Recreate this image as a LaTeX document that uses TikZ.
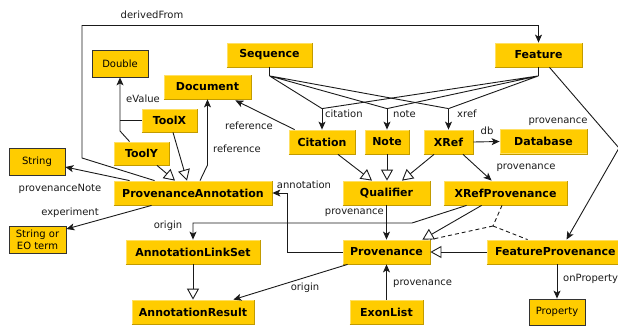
\documentclass[tikz,border=0pt]{standalone}
\usepackage{fontspec}
\setmainfont{DejaVu Sans}
\usetikzlibrary{arrows.meta,calc}
\definecolor{gold}{HTML}{FFCC00}
\definecolor{goldlight}{HTML}{FFE064}
\definecolor{golddark}{HTML}{C29B00}
\definecolor{ink}{HTML}{1A1A1A}

\begin{document}
\begin{tikzpicture}[x=1pt,y=-1pt,
  cls/.style={fill=gold, draw=goldlight, line width=0.8pt, inner sep=0pt,
    minimum height=24pt, font=\fontsize{11}{13}\selectfont\bfseries},
  shade edge/.style={draw=golddark, line width=0.8pt},
  prim/.style={fill=gold, draw=black!80, line width=0.8pt, inner sep=0pt,
    minimum height=27pt, minimum width=56pt, align=center,
    font=\fontsize{10}{12}\selectfont},
  lbl/.style={font=\fontsize{10}{12}\selectfont, text=ink, inner sep=0pt},
  link/.style={draw=ink, line width=0.9pt},
  assoc/.style={link, -{Stealth[length=8pt,width=7pt,inset=2pt]}},
  isa/.style={link, -{Triangle[open,length=11pt,width=12pt]}},
  dep/.style={link, dash pattern=on 4pt off 3pt}
]
\useasboundingbox (0,0) rectangle (618,326);

% classes
\node[prim] (Dbl) at (120,63.5) {Double};
\node[cls, minimum width=85pt] (Seq) at (269.5,55) {Sequence};
\node[cls, minimum width=87pt] (Feat) at (538.5,55) {Feature};
\node[cls, minimum width=87pt] (Doc) at (207.5,87) {Document};
\node[cls, minimum width=55pt, minimum height=23pt] (ToolX) at (169.5,120.5) {ToolX};
\node[cls, minimum width=55pt, minimum height=23pt] (ToolY) at (141.5,153.5) {ToolY};
\node[prim] (Str) at (37,161.5) {String};
\node[cls, minimum width=158pt] (PA) at (193,193) {ProvenanceAnnotation};
\node[prim, minimum width=57pt] (SEO) at (37.5,239.5) {String or\\EO term};
\node[cls, minimum width=66pt] (Cit) at (322,142) {Citation};
\node[cls, minimum width=44pt] (Note) at (387,142) {Note};
\node[cls, minimum width=49pt] (XRef) at (448.5,142) {XRef};
\node[cls, minimum width=87pt] (DB) at (543.5,141.5) {Database};
\node[cls, minimum width=87pt] (Qual) at (386.5,193) {Qualifier};
\node[cls, minimum width=123pt] (XRP) at (505.5,193) {XRefProvenance};
\node[cls, minimum width=134pt] (ALS) at (193,252) {AnnotationLinkSet};
\node[cls, minimum width=122pt] (AR) at (193,312) {AnnotationResult};
\node[cls, minimum width=87pt] (Prov) at (386.5,252) {Provenance};
\node[cls, minimum width=137pt, text width=121pt, align=left] (FP) at (555.5,252) {FeatureProvenance};
\node[cls, minimum width=73pt] (Exon) at (386.5,312) {ExonList};
\node[prim, minimum height=26pt] (Prop) at (557,312) {Property};

% darker lower and right edges of the class boxes
\foreach \n in {Seq,Feat,Doc,ToolX,ToolY,PA,Cit,Note,XRef,DB,Qual,XRP,ALS,AR,Prov,FP,Exon}
  \draw[shade edge] (\n.south west) -- (\n.south east) -- (\n.north east);

% derivedFrom
\draw[assoc] ($(PA.north west)+(41,0)$) -- (82,158) -- (82,25.5) -| (Feat.north);
\node[lbl] at (152,15) {derivedFrom};

% notes and experiment
\draw[assoc] ($(PA.north west)+(16,0)$) -- ($(Str.east)+(0,5.5)$);
\node[lbl] at (60,189) {provenanceNote};
\draw[assoc] ($(PA.south west)+(38,0)$) -- ($(SEO.east)+(0,-10.5)$);
\node[lbl] at (70,213) {experiment};

% tools
\draw[assoc] ($(ToolY.north west)+(16,0)$) -- (120,131) -- (Dbl.south);
\draw[link] (ToolX.west) -- (120,120.5);
\node[lbl] at (143,99) {eValue};
\draw[isa] ($(ToolX.south)+(3.5,0)$) -- ($(PA.north)+(-6,0)$);
\draw[isa] ($(ToolY.south)+(15.5,0)$) -- ($(PA.north)+(-18,0)$);

% references to Document
\draw[assoc] ($(PA.north)+(7,0)$) -- (207.5,165) -- (Doc.south);
\node[lbl] at (237,149) {reference};
\draw[assoc] ($(Cit.north west)+(6,0)$) -- ($(Doc.south east)+(-16,1)$);
\node[lbl] at (249,126) {reference};

% citation / note / xref fan
\coordinate (fc) at ($(Cit.north)+(0,-21)$);
\coordinate (fn) at ($(Note.north)+(0,-21)$);
\coordinate (fx) at ($(XRef.north)+(0,-21)$);
\draw[link] (Seq.south) -- ++(0,8.5) coordinate (sk);
\draw[link] (Feat.south) -- ++(0,8.5) coordinate (fk);
\draw[link] (sk) -- (fc) (sk) -- (fn) (sk) -- (fx);
\draw[link] (fk) -- (fc) (fk) -- (fn) (fk) -- (fx);
\draw[assoc] (fc) -- (Cit.north);
\draw[assoc] (fn) -- (Note.north);
\draw[assoc] (fx) -- (XRef.north);
\node[lbl, anchor=west] at (325,114) {citation};
\node[lbl, anchor=west] at (393,114) {note};
\node[lbl, anchor=west] at (457,114) {xref};

% XRef
\draw[assoc] (XRef.east) -- (DB.west);
\node[lbl] at (487,131) {db};
\draw[assoc] ($(XRef.south)+(14.5,0)$) -- ($(XRP.north west)+(48,0)$);
\node[lbl] at (526,168) {provenance};

% Qualifier hierarchy
\draw[isa] ($(Cit.south)+(16,0)$) -- ($(Qual.north)+(-14.5,0)$);
\draw[isa] (Note.south) -- (Note.south |- Qual.north);
\draw[isa] ($(XRef.south)+(-14.5,0)$) -- ($(Qual.north)+(15.5,0)$);
\draw[assoc] (Qual.south) -- (Prov.north);
\node[lbl, anchor=east] at (384,213) {provenance};

% Provenance links
\draw[assoc] (Prov.west) -| ($(PA.east)+(15,0)$) -- (PA.east);
\node[lbl] at (304,185) {annotation};
\draw[assoc] ($(XRP.south west)+(23,0)$) -- (412,223) -| (ALS.north);
\node[lbl] at (168,225.5) {origin};
\draw[isa] ($(XRP.south west)+(38,0)$) -- ($(Prov.north east)+(-8,0)$);
\coordinate (dk) at (493,226);
\draw[dep] ($(XRP.south)+(-3.5,0)$) -- (dk);
\draw[dep] (dk) -- (Prov.north east);
\draw[dep] (dk) -- ($(FP.north west)+(41,0)$);
\draw[isa] (FP.west) -- (Prov.east);
\draw[assoc] (FP.south -| Prop.north) -- (Prop.north);
\node[lbl, anchor=west] at (563,279) {onProperty};
\draw[assoc] (Exon.north) -- (Prov.south);
\node[lbl, anchor=west] at (393,284) {provenance};
\draw[isa] (ALS.south) -- (AR.north);
\draw[assoc] ($(Prov.south west)+(5,0)$) -- ($(AR.north east)+(-21,0)$);
\node[lbl] at (305,288) {origin};

% Feature provenance
\draw[assoc] ($(Feat.south)+(11,0)$) -- (619,148) -- ($(FP.north)+(11,0)$);
\node[lbl] at (558,122) {provenance};
\end{tikzpicture}
\end{document}
